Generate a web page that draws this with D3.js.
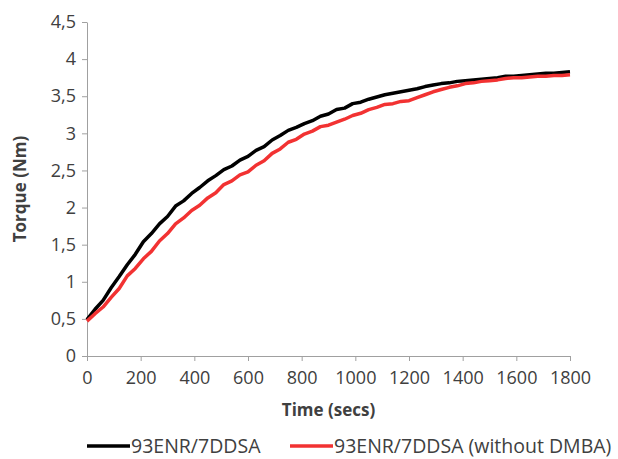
<!DOCTYPE html>
<html>
<head lang="en">
  <meta charset="UTF-8">
  <title>Torque vs time</title>
  <script src="https://cdn.jsdelivr.net/npm/d3@7"></script>
</head>
<style>
  body { margin: 0; background: #fff; }
  #chart text { font-family: "Open Sans", sans-serif; fill: #404040; }
  #chart .domain, #chart .tick line { stroke: #a0a0a0; }
</style>
<body>
<svg id="chart" width="618" height="459"></svg>
<script>
  // time in secs, one reading every 30 s
  var times = [0, 30, 60, 90, 120, 150, 180, 210, 240, 270, 300, 330, 360, 390, 420, 450, 480, 510, 540, 570,
    600, 630, 660, 690, 720, 750, 780, 810, 840, 870, 900, 930, 960, 990, 1020, 1050, 1080, 1110, 1140, 1170,
    1200, 1230, 1260, 1290, 1320, 1350, 1380, 1410, 1440, 1470, 1500, 1530, 1560, 1590, 1620, 1650, 1680, 1710,
    1740, 1770, 1800];

  // 93ENR/7DDSA
  var torqueA = [0.49, 0.63, 0.75, 0.92, 1.07, 1.23, 1.37, 1.54, 1.65, 1.78, 1.88, 2.02, 2.09, 2.19, 2.27, 2.36,
    2.43, 2.51, 2.56, 2.64, 2.69, 2.77, 2.82, 2.91, 2.97, 3.04, 3.08, 3.13, 3.17, 3.23, 3.26, 3.32, 3.34, 3.40,
    3.42, 3.46, 3.49, 3.52, 3.54, 3.56, 3.58, 3.60, 3.63, 3.65, 3.67, 3.68, 3.70, 3.71, 3.72, 3.73, 3.74, 3.75,
    3.77, 3.77, 3.78, 3.79, 3.80, 3.81, 3.81, 3.82, 3.83];

  // 93ENR/7DDSA (without DMBA)
  var torqueB = [0.47, 0.57, 0.66, 0.79, 0.91, 1.08, 1.18, 1.31, 1.41, 1.55, 1.65, 1.78, 1.86, 1.96, 2.03, 2.13,
    2.20, 2.31, 2.36, 2.44, 2.48, 2.57, 2.63, 2.73, 2.79, 2.88, 2.92, 2.99, 3.03, 3.09, 3.11, 3.15, 3.19, 3.24,
    3.27, 3.32, 3.35, 3.39, 3.40, 3.43, 3.44, 3.48, 3.52, 3.56, 3.59, 3.62, 3.64, 3.67, 3.68, 3.70, 3.71, 3.72,
    3.74, 3.75, 3.75, 3.76, 3.77, 3.77, 3.78, 3.78, 3.79];

  var seriesNames = ['93ENR/7DDSA', '93ENR/7DDSA (without DMBA)'];
  var seriesColors = ['#000000', '#f23232'];
  var xTicks = [0, 200, 400, 600, 800, 1000, 1200, 1400, 1600, 1800];
  var yTicks = [0, 0.5, 1, 1.5, 2, 2.5, 3, 3.5, 4, 4.5];

  var margin = { top: 22, right: 48, bottom: 103, left: 87 };
  var width = 618 - margin.left - margin.right;
  var height = 459 - margin.top - margin.bottom;

  var svg = d3.select('#chart');
  var g = svg.append('g').attr('transform', 'translate(' + margin.left + ',' + margin.top + ')');

  var x = d3.scaleLinear().domain([0, 1800]).range([0, width]);
  var y = d3.scaleLinear().domain([0, 4.5]).range([height, 0]);
  var comma = function (d) { return String(d).replace('.', ','); };

  g.append('g')
    .attr('transform', 'translate(0,' + height + ')')
    .call(d3.axisBottom(x).tickValues(xTicks).tickFormat(String).tickSize(5).tickPadding(10).tickSizeOuter(0))
    .selectAll('text').style('font-size', '18px');

  g.append('g')
    .call(d3.axisLeft(y).tickValues(yTicks).tickFormat(comma).tickSize(5).tickPadding(6).tickSizeOuter(0))
    .selectAll('text').style('font-size', '18px');

  var line = d3.line()
    .x(function (d) { return x(d[0]); })
    .y(function (d) { return y(d[1]); });

  [torqueA, torqueB].forEach(function (vals, i) {
    g.append('path')
      .datum(d3.zip(times, vals))
      .attr('fill', 'none')
      .attr('stroke', seriesColors[i])
      .attr('stroke-width', 3.5)
      .attr('stroke-linejoin', 'round')
      .attr('d', line);
  });

  // axis titles
  svg.append('text')
    .attr('x', margin.left + width / 2).attr('y', 416)
    .attr('text-anchor', 'middle')
    .style('font-size', '17px').style('font-weight', 'bold')
    .text('Time (secs)');

  svg.append('text')
    .attr('transform', 'translate(26,' + (margin.top + height / 2) + ') rotate(-90)')
    .attr('text-anchor', 'middle')
    .style('font-size', '17px').style('font-weight', 'bold')
    .text('Torque (Nm)');

  // legend
  var legendX = [87, 290];
  var legend = svg.selectAll('.legend')
    .data(seriesNames)
    .enter().append('g')
    .attr('class', 'legend')
    .attr('transform', function (d, i) { return 'translate(' + legendX[i] + ',446)'; });

  legend.append('line')
    .attr('x1', 0).attr('x2', 43)
    .attr('stroke', function (d, i) { return seriesColors[i]; })
    .attr('stroke-width', 3.5);

  legend.append('text')
    .attr('x', 44).attr('dy', '0.35em')
    .style('font-size', '19.5px')
    .text(function (d) { return d; });
</script>
</body>
</html>
